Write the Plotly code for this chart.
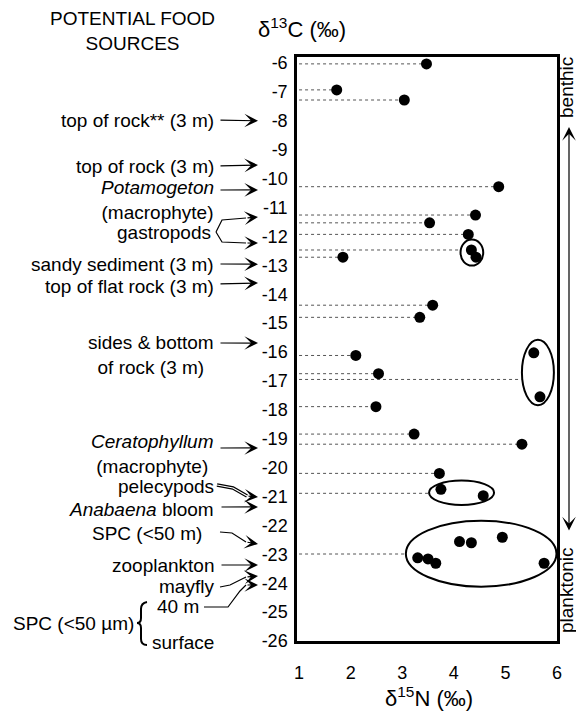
import plotly.graph_objects as go

# ---------------- data ----------------
d15N = [3.47, 1.73, 3.04, 4.87, 4.42, 3.53, 4.28, 4.34, 4.43, 1.85,
        3.59, 3.34, 2.10, 2.54, 2.49, 3.23, 5.32, 3.72, 5.55, 5.67,
        3.75, 4.57, 4.11, 4.34, 4.94, 3.30, 3.50, 3.65, 5.75]
d13C = [-6.03, -6.93, -7.28, -10.28, -11.26, -11.53, -11.93, -12.47, -12.72, -12.72,
        -14.38, -14.80, -16.12, -16.75, -17.89, -18.84, -19.19, -20.20, -16.03, -17.55,
        -20.75, -20.97, -22.56, -22.60, -22.41, -23.12, -23.16, -23.31, -23.31]

# dotted guide lines: d13C level and d15N end
guide_C = [-6.03, -6.93, -7.28, -10.28, -11.26, -11.53, -11.93, -12.47, -12.72, -14.38,
           -14.80, -16.12, -16.75, -16.95, -17.89, -18.84, -19.19, -20.20, -20.89, -22.99]
guide_N_end = [3.47, 1.73, 3.04, 4.87, 4.42, 3.53, 4.28, 4.12, 1.85, 3.59,
               3.34, 2.10, 2.54, 5.31, 2.49, 3.23, 5.32, 3.72, 3.53, 3.07]

# ellipses (groupings)
ell_N_center = [4.35, 5.63, 4.15, 4.53]
ell_C_center = [-12.56, -16.71, -20.87, -22.98]
ell_N_half = [0.22, 0.31, 0.63, 1.46]
ell_C_half = [0.45, 1.13, 0.42, 1.14]

# axis ticks
x_ticks = [1, 2, 3, 4, 5, 6]
y_ticks = list(range(-6, -27, -1))
y_tick_labels = [str(v) for v in y_ticks]

# potential food source labels: text and the d13C value their arrow points at
src_straight_text = ["top of rock** (3 m)", "top of rock (3 m)", "Potamogeton", "sandy sediment (3 m)",
                     "top of flat rock (3 m)", "sides & bottom", "Ceratophyllum", "Anabaena bloom",
                     "zooplankton", "surface"]
src_straight_C = [-8.0, -9.53, -10.39, -12.96, -13.61, -15.69, -19.32, -21.36, -23.37, -26.07]
src_curved_text = ["gastropods (a)", "gastropods (b)", "pelecypods", "SPC (<50 m)", "mayfly", "40 m"]
src_curved_C = [-11.33, -12.23, -21.02, -22.64, -23.75, -24.06]

# ---------------- layout geometry ----------------
WIDTH, HEIGHT = 576, 713
L, R, T, B = 297, 557, 57, 641
W, H = R - L, B - T
XR = [0.96, 6.0]
YR = [-26.0, -5.792]

def PX(x):
    return (x - L) / W

def PY(y):
    return (B - y) / H

def ypix(c):
    return B - (c - YR[0]) / (YR[1] - YR[0]) * H

FONT = "Liberation Sans, Arial, sans-serif"

fig = go.Figure()

# dotted guide lines
gx, gy = [], []
for c, n in zip(guide_C, guide_N_end):
    gx += [1.0, n, None]
    gy += [c, c, None]
fig.add_trace(go.Scatter(x=gx, y=gy, mode="lines",
                         line=dict(color="#555555", width=1, dash="dot"),
                         hoverinfo="skip", showlegend=False))

# points
fig.add_trace(go.Scatter(x=d15N, y=d13C, mode="markers",
                         marker=dict(color="black", size=11),
                         showlegend=False))

shapes = []
for xc, yc, hx, hy in zip(ell_N_center, ell_C_center, ell_N_half, ell_C_half):
    shapes.append(dict(type="circle", xref="x", yref="y",
                       x0=xc - hx, x1=xc + hx, y0=yc - hy, y1=yc + hy,
                       line=dict(color="black", width=2)))

annotations = []

def text_ann(text, xr, yc, anchor="right", align="right", size=19, **kw):
    d = dict(text=text, x=PX(xr), y=PY(yc), xref="paper", yref="paper",
             xanchor=anchor, yanchor="middle", align=align, showarrow=False,
             font=dict(family=FONT, size=size, color="black"))
    d.update(kw)
    annotations.append(d)

def arrow(tail, tipx, tipC):
    ty = ypix(tipC)
    annotations.append(dict(text="", x=PX(tipx), y=tipC, xref="paper", yref="y",
                            ax=tail[0] - tipx, ay=tail[1] - ty,
                            showarrow=True, arrowhead=3, arrowsize=1.9,
                            arrowwidth=1.2, arrowcolor="black"))

def path(points, width=1.2, color="black"):
    p = "M " + " L ".join(f"{PX(x):.5f},{PY(y):.5f}" for x, y in points)
    shapes.append(dict(type="path", path=p, xref="paper", yref="paper",
                       line=dict(color=color, width=width)))

# headers
text_ann("POTENTIAL FOOD<br>SOURCES", 132, 31, anchor="center", align="center")
text_ann("δ<sup>13</sup>C (‰)", 302, 28, anchor="center", align="center", size=22)
text_ann("δ<sup>15</sup>N (‰)", 429, 697, anchor="center", align="center", size=22)

# left labels
text_ann("top of rock** (3 m)", 216, 120)
text_ann("top of rock (3 m)", 216, 166)
text_ann("<i>Potamogeton</i><br>(macrophyte)", 216, 200, align="center")
text_ann("gastropods", 213, 232)
text_ann("sandy sediment (3 m)", 216, 264)
text_ann("top of flat rock (3 m)", 216, 286)
text_ann("sides & bottom<br>of rock (3 m)", 216, 355, align="center")
text_ann("<i>Ceratophyllum</i><br>(macrophyte)", 216, 454, align="center")
text_ann("pelecypods", 216, 487)
text_ann("<i>Anabaena</i> bloom", 216, 509)
text_ann("SPC (&lt;50 m)", 204, 533)
text_ann("zooplankton", 216, 565)
text_ann("mayfly", 216, 586)
text_ann("40 m", 201, 606)
text_ann("surface", 216, 642)
text_ann("SPC (&lt;50 µm)", 136, 623)

# brace
shapes.append(dict(type="path", xref="paper", yref="paper",
                   path=(f"M {PX(147)},{PY(602)} Q {PX(141)},{PY(603)} {PX(141)},{PY(609)} "
                         f"L {PX(141)},{PY(618)} Q {PX(141)},{PY(623)} {PX(137)},{PY(623)} "
                         f"Q {PX(141)},{PY(623)} {PX(141)},{PY(628)} "
                         f"L {PX(141)},{PY(639)} Q {PX(141)},{PY(645)} {PX(147)},{PY(645)}"),
                   line=dict(color="black", width=2)))

# straight arrows
straight_tails = [(219, 120), (219, 166), (219, 190), (219, 264), (219, 284),
                  (219, 343), (219, 448), (220, 507), (220, 565), (220, 643)]
for (tx, ty), c in zip(straight_tails, src_straight_C):
    arrow((tx, ty), 258, c)

# curved arrows: polylines then arrow for the last segment
curved_paths = [
    [(216, 232), (222, 220), (246, 218)],
    [(216, 232), (222, 242), (246, 243)],
    [(217, 485), (233, 488), (247, 496)],
    [(220, 532), (232, 533), (246, 542)],
    [(220, 587), (230, 585), (246, 577)],
    [(204, 607), (228, 607), (240, 591), (246, 585)],
]
for i, (pts, c) in enumerate(zip(curved_paths, src_curved_C)):
    if src_curved_text[i] == "pelecypods":
        path(pts, width=3.5)
        path(pts, width=1.2, color="white")
    else:
        path(pts)
    arrow(pts[-1], 258, c)

# right-side benthic / planktonic gradient
annotations.append(dict(text="", x=PX(569), y=PY(127), xref="paper", yref="paper",
                        ax=0, ay=532 - 127, showarrow=True, arrowhead=3,
                        arrowside="end+start", arrowsize=1.9, arrowwidth=1.2,
                        arrowcolor="black"))
text_ann("benthic", 566, 88, anchor="center", align="center", textangle=-90)
text_ann("planktonic", 566, 590, anchor="center", align="center", textangle=-90)

fig.update_layout(
    width=WIDTH, height=HEIGHT,
    margin=dict(l=L, r=WIDTH - R, t=T, b=HEIGHT - B),
    paper_bgcolor="white", plot_bgcolor="white",
    showlegend=False,
    font=dict(family=FONT, size=18, color="black"),
    shapes=shapes, annotations=annotations,
    xaxis=dict(range=XR, tickvals=x_ticks, ticks="", showgrid=False, zeroline=False,
               showline=True, mirror=True, linecolor="black", linewidth=2.5,
               ticklabelstandoff=14, tickfont=dict(size=18)),
    yaxis=dict(range=YR, tickvals=y_ticks, ticktext=y_tick_labels, ticks="",
               showgrid=False, zeroline=False,
               showline=True, mirror=True, linecolor="black", linewidth=2.5,
               ticklabelstandoff=3, tickfont=dict(size=18)),
)

fig.write_html("out.html", config={"displayModeBar": False},
               post_script="document.body.style.margin='0';document.body.style.overflow='hidden';")
